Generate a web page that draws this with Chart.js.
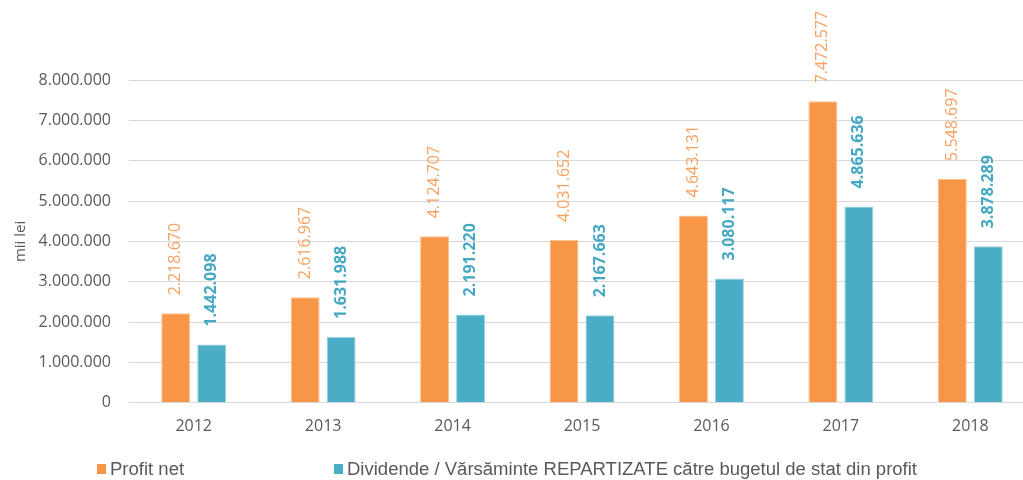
<!DOCTYPE html>
<html>
<head>
<meta charset="utf-8">
<script src="https://cdn.jsdelivr.net/npm/chart.js@4"></script>
<style>
  html, body { margin: 0; padding: 0; background: #fff; overflow: hidden; }
  #wrap { width: 1045px; height: 480px; }
</style>
</head>
<body>
<div id="wrap"><canvas id="myChart"></canvas></div>
<script>
const years = ['2012', '2013', '2014', '2015', '2016', '2017', '2018'];
const profitNet = [2218670, 2616967, 4124707, 4031652, 4643131, 7472577, 5548697];
const dividende = [1442098, 1631988, 2191220, 2167663, 3080117, 4865636, 3878289];
const seriesNames = ['Profit net', 'Dividende / Vărsăminte REPARTIZATE către bugetul de stat din profit'];

const orange = '#f79646';
const blue = '#4bacc6';
const grey = '#595959';

function fmt(v) {
  return String(Math.round(v)).replace(/\B(?=(\d{3})+(?!\d))/g, '.');
}

// values written vertically above each bar
const barLabels = {
  id: 'barLabels',
  afterDatasetsDraw(chart) {
    const ctx = chart.ctx;
    const styles = [
      { color: '#f8a060', font: '16px "Open Sans"' },
      { color: '#45a8c3', font: 'bold 16px "Open Sans"' }
    ];
    chart.data.datasets.forEach((ds, i) => {
      const meta = chart.getDatasetMeta(i);
      meta.data.forEach((bar, j) => {
        ctx.save();
        ctx.translate(bar.x, bar.y - 18);
        ctx.rotate(-Math.PI / 2);
        ctx.font = styles[i].font;
        ctx.fillStyle = styles[i].color;
        ctx.textAlign = 'left';
        ctx.textBaseline = 'middle';
        ctx.fillText(fmt(ds.data[j]), 0, 0);
        ctx.restore();
      });
    });
  }
};

// legend spread out like the original, text narrowed
const bottomLegend = {
  id: 'bottomLegend',
  afterDraw(chart) {
    const ctx = chart.ctx;
    const starts = [97, 334];
    const y = 469;
    ctx.save();
    ctx.font = '18px "Liberation Sans"';
    ctx.textBaseline = 'middle';
    const squeeze = 570 / ctx.measureText(seriesNames[1]).width;
    chart.data.datasets.forEach((ds, i) => {
      ctx.fillStyle = ds.backgroundColor;
      ctx.fillRect(starts[i], y - 5, 9, 10);
      ctx.save();
      ctx.translate(starts[i] + 13, y + 1);
      ctx.scale(squeeze, 1);
      ctx.fillStyle = grey;
      ctx.fillText(ds.label, 0, 0);
      ctx.restore();
    });
    ctx.restore();
  }
};

new Chart(document.getElementById('myChart'), {
  type: 'bar',
  data: {
    labels: years,
    datasets: [
      {
        label: seriesNames[0],
        data: profitNet,
        backgroundColor: orange,
        borderColor: '#fbc08f',
        borderWidth: 1
      },
      {
        label: seriesNames[1],
        data: dividende,
        backgroundColor: blue,
        borderColor: '#9ad2e2',
        borderWidth: 1
      }
    ]
  },
  options: {
    responsive: true,
    maintainAspectRatio: false,
    animation: false,
    datasets: {
      bar: { categoryPercentage: 0.556, barPercentage: 0.805 }
    },
    layout: { padding: { top: 80, right: 10, bottom: 30, left: 0 } },
    plugins: {
      legend: { display: false },
      tooltip: { enabled: false }
    },
    scales: {
      x: {
        grid: { display: false, drawTicks: false },
        border: { display: false },
        ticks: { color: grey, font: { family: 'Open Sans', size: 16 }, padding: 14 }
      },
      y: {
        min: 0,
        max: 8000000,
        afterFit: scale => { scale.width = 129; },
        grid: { color: '#d9d9d9', lineWidth: 1, drawTicks: false },
        border: { display: false },
        ticks: {
          stepSize: 1000000,
          color: grey,
          padding: 18,
          font: { family: 'Open Sans', size: 16 },
          callback: v => fmt(v)
        },
        title: {
          display: true,
          text: 'mii lei',
          color: grey,
          font: { family: 'Open Sans', size: 15 },
          padding: 12
        }
      }
    }
  },
  plugins: [barLabels, bottomLegend]
});
</script>
</body>
</html>
